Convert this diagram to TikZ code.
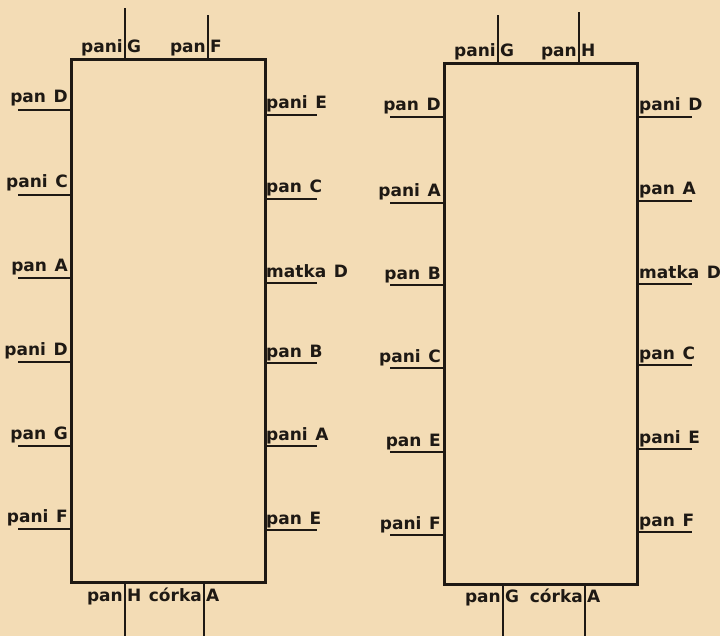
\documentclass[tikz,border=0pt]{standalone}
\usepackage{fontspec}
\setmainfont{DejaVu Sans}
\definecolor{paper}{RGB}{243,220,181}
\definecolor{ink}{RGB}{30,25,20}
\newcommand\wgap{\hspace{0.45em}}
\begin{document}
\begin{tikzpicture}[x=1bp,y=-1bp,
  tbl/.style={draw=ink, line width=3bp, inner sep=0pt, anchor=north west},
  seat/.style={draw=ink, line width=2.6bp},
  lbl/.style={font=\bfseries\fontsize{17bp}{17bp}\selectfont, text=ink, inner sep=0pt},
]
\fill[paper] (0,0) rectangle (720,636);
\useasboundingbox (0,0) rectangle (720,636);

% tables
\node[tbl, minimum width=194bp, minimum height=523bp] (T1) at (70,58) {};
\node[tbl, minimum width=193bp, minimum height=521bp] (T2) at (443,62) {};

% ---------- table 1 ----------
\foreach \y/\t [count=\i] in {110/pan\wgap D, 195/pani\wgap C, 278/pan\wgap A, 362/pani\wgap D, 446/pan\wgap G, 529/pani\wgap F} {
  \coordinate (T1la\i) at (T1.west |- 0,\y);
  \coordinate (T1lb\i) at (18,\y);
  \draw[seat] (T1la\i) -- (T1lb\i);
  \node[lbl, anchor=base east] (T1lt\i) at (68,\y-7) {\t};
}
\foreach \y/\t [count=\i] in {115/pani\wgap E, 199/pan\wgap C, 283/matka\wgap D, 363/pan\wgap B, 446/pani\wgap A, 530/pan\wgap E} {
  \coordinate (T1ra\i) at (T1.east |- 0,\y);
  \coordinate (T1rb\i) at (317,\y);
  \draw[seat] (T1ra\i) -- (T1rb\i);
  \node[lbl, anchor=base west] (T1rt\i) at (266,\y-6) {\t};
}
% top
\coordinate (T1t1) at (T1.north -| 125,0); \coordinate (T1t1e) at (125,8);
\coordinate (T1t2) at (T1.north -| 208,0); \coordinate (T1t2e) at (208,15);
\draw[seat] (T1t1) -- (T1t1e);
\draw[seat] (T1t2) -- (T1t2e);
\node[lbl, anchor=base east] (T1tl1) at (123,53) {pani};
\node[lbl, anchor=base west] (T1tr1) at (127,53) {G};
\node[lbl, anchor=base east] (T1tl2) at (206,53) {pan};
\node[lbl, anchor=base west] (T1tr2) at (210,53) {F};
% bottom
\coordinate (T1b1) at (T1.south -| 125,0); \coordinate (T1b1e) at (125,636);
\coordinate (T1b2) at (T1.south -| 204,0); \coordinate (T1b2e) at (204,636);
\draw[seat] (T1b1) -- (T1b1e);
\draw[seat] (T1b2) -- (T1b2e);
\node[lbl, anchor=base east] (T1bl1) at (123,601) {pan};
\node[lbl, anchor=base west] (T1br1) at (127,601) {H};
\node[lbl, anchor=base east] (T1bl2) at (202,601) {córka};
\node[lbl, anchor=base west] (T1br2) at (206,601) {A};

% ---------- table 2 ----------
\foreach \y/\t [count=\i] in {117/pan\wgap D, 203/pani\wgap A, 285/pan\wgap B, 368/pani\wgap C, 452/pan\wgap E, 535/pani\wgap F} {
  \coordinate (T2la\i) at (T2.west |- 0,\y);
  \coordinate (T2lb\i) at (390,\y);
  \draw[seat] (T2la\i) -- (T2lb\i);
  \node[lbl, anchor=base east] (T2lt\i) at (441,\y-6) {\t};
}
\foreach \y/\t [count=\i] in {117/pani\wgap D, 201/pan\wgap A, 284/matka\wgap D, 365/pan\wgap C, 449/pani\wgap E, 532/pan\wgap F} {
  \coordinate (T2ra\i) at (T2.east |- 0,\y);
  \coordinate (T2rb\i) at (692,\y);
  \draw[seat] (T2ra\i) -- (T2rb\i);
  \node[lbl, anchor=base west] (T2rt\i) at (639,\y-6) {\t};
}
% top
\coordinate (T2t1) at (T2.north -| 498,0); \coordinate (T2t1e) at (498,15);
\coordinate (T2t2) at (T2.north -| 579,0); \coordinate (T2t2e) at (579,12);
\draw[seat] (T2t1) -- (T2t1e);
\draw[seat] (T2t2) -- (T2t2e);
\node[lbl, anchor=base east] (T2tl1) at (496,57) {pani};
\node[lbl, anchor=base west] (T2tr1) at (500,57) {G};
\node[lbl, anchor=base east] (T2tl2) at (577,57) {pan};
\node[lbl, anchor=base west] (T2tr2) at (581,57) {H};
% bottom
\coordinate (T2b1) at (T2.south -| 503,0); \coordinate (T2b1e) at (503,636);
\coordinate (T2b2) at (T2.south -| 585,0); \coordinate (T2b2e) at (585,636);
\draw[seat] (T2b1) -- (T2b1e);
\draw[seat] (T2b2) -- (T2b2e);
\node[lbl, anchor=base east] (T2bl1) at (501,602) {pan};
\node[lbl, anchor=base west] (T2br1) at (505,602) {G};
\node[lbl, anchor=base east] (T2bl2) at (583,602) {córka};
\node[lbl, anchor=base west] (T2br2) at (587,602) {A};
\end{tikzpicture}
\end{document}
